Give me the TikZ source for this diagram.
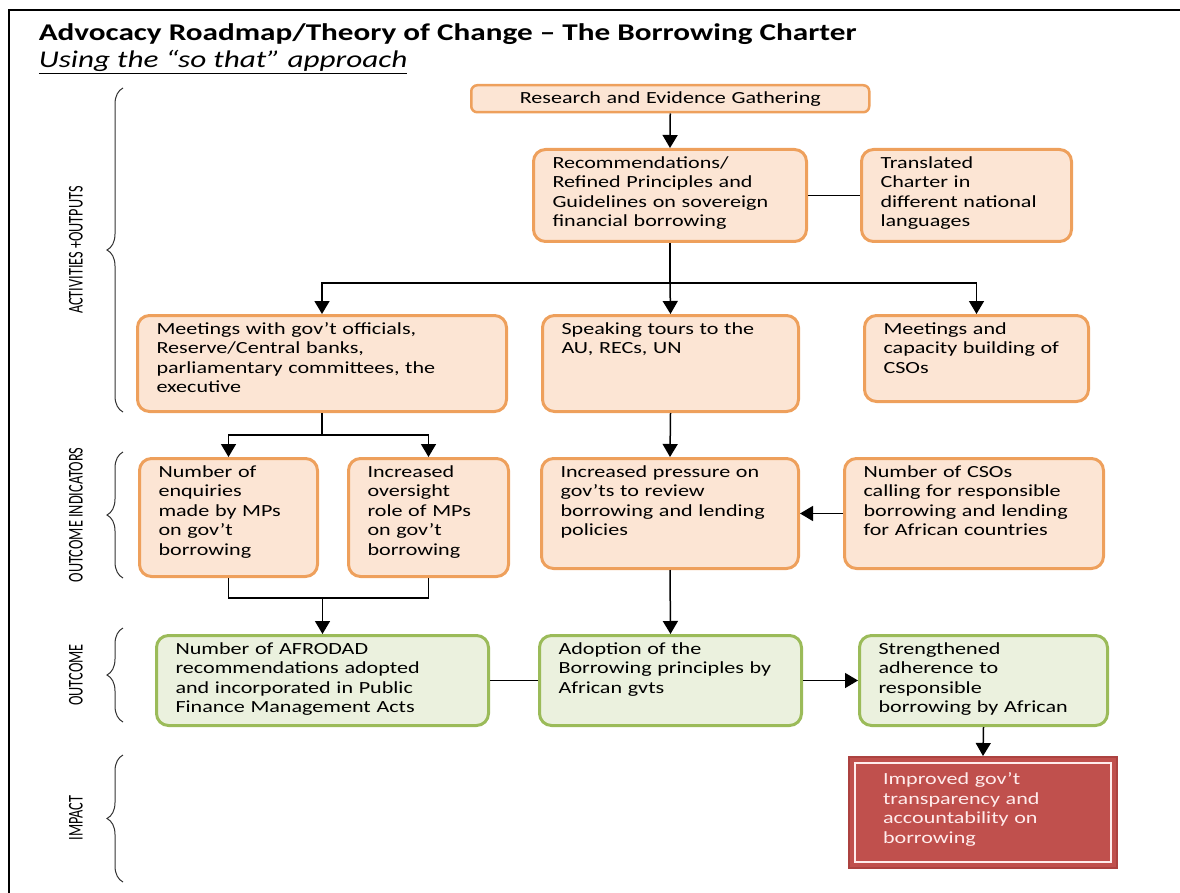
\documentclass[tikz,border=0pt]{standalone}
\usepackage{fontspec}
\setmainfont{Carlito}[FakeStretch=1.3]
\newfontfamily\sidefont{Carlito}[FakeStretch=0.68]
\usepackage{tikz}
\usetikzlibrary{arrows.meta,decorations.pathreplacing,calc}
\definecolor{peach}{RGB}{252,229,212}
\definecolor{orangeline}{RGB}{238,160,92}
\definecolor{palegreen}{RGB}{235,241,222}
\definecolor{greenline}{RGB}{155,187,89}
\definecolor{brick}{RGB}{192,80,77}
\definecolor{brickline}{RGB}{172,66,64}
\definecolor{pinkwhite}{RGB}{255,236,236}
\newcommand{\boxtext}[2]{\parbox[c][#1][t]{\linewidth}{\raggedright #2}}
\tikzset{
  obox/.style={draw=orangeline,fill=peach,line width=3pt,rounded corners=12pt,
    anchor=north west,inner xsep=0pt,inner ysep=7pt,font=\fontsize{17}{19.5}\selectfont},
  gbox/.style={obox,draw=greenline,fill=palegreen},
  redbox/.style={draw=brickline,fill=brick,line width=2pt,anchor=north west,
    inner xsep=0pt,inner ysep=16pt,text=pinkwhite,font=\fontsize{17}{19.5}\selectfont},
  sidelabel/.style={rotate=90,font=\sidefont\fontsize{21}{22}\selectfont},
  bracket/.style={decorate,decoration={brace,amplitude=16pt},line width=1pt,draw=black!80}
}
\begin{document}
\begin{tikzpicture}[x=1pt,y=-1pt,>={Triangle[width=15pt,length=13pt]},line width=1.5pt]
\useasboundingbox (0,0) rectangle (1180,893);
\clip (0,0) rectangle (1180,893);
% frame and heading
\draw[line width=2.5pt] (9,10) rectangle (1200,920);
\node[anchor=base west,font=\bfseries\fontsize{24}{26}\selectfont,inner sep=0pt] (title) at (38,41)
  {Advocacy Roadmap/Theory of Change -- The Borrowing Charter};
\node[anchor=base west,font=\itshape\fontsize{24}{26}\selectfont,inner sep=0pt] (subtitle) at (38,68)
  {\underline{Using the “so that” approach}};
% stages on the left
\draw[bracket] (123,412) -- (123,88);
\draw[bracket] (123,578) -- (123,452);
\draw[bracket] (123,722) -- (123,628);
\draw[bracket] (123,882) -- (123,755);
\node[sidelabel] (lact) at (76,250) {ACTIVITIES +OUTPUTS};
\node[sidelabel] (lind) at (76,515) {OUTCOME INDICATORS};
\node[sidelabel] (lout) at (76,675) {OUTCOME};
\node[sidelabel] (limp) at (76,818) {IMPACT};
% activities + outputs
\node[obox,line width=2.5pt,rounded corners=6pt,minimum width=398pt,minimum height=27pt,
  inner ysep=2pt,text width=380pt,align=center] (research) at (470,84) {Research and Evidence Gathering};
\node[obox,minimum width=273pt,minimum height=92pt,text width=235pt] (rec) at (532,148)
  {\boxtext{78pt}{Recommendations/\\Refined Principles and\\Guidelines on sovereign\\financial borrowing}};
\node[obox,minimum width=210pt,minimum height=92pt,text width=172pt] (trans) at (860,148)
  {\boxtext{78pt}{Translated\\Charter in\\different national\\languages}};
\node[obox,minimum width=369pt,minimum height=96pt,text width=331pt] (gov) at (136,314)
  {\boxtext{82pt}{Meetings with gov’t officials,\\Reserve/Central banks,\\parliamentary committees, the\\executive}};
\node[obox,minimum width=256pt,minimum height=96pt,text width=218pt] (speak) at (541,314)
  {\boxtext{82pt}{Speaking tours to the\\AU, RECs, UN}};
\node[obox,minimum width=224pt,minimum height=86pt,text width=186pt] (csomeet) at (863,314)
  {\boxtext{72pt}{Meetings and\\capacity building of\\CSOs}};
% outcome indicators
\node[obox,minimum width=178pt,minimum height=118pt,text width=140pt] (enq) at (138,457)
  {\boxtext{104pt}{Number of\\enquiries\\made by MPs\\on gov’t\\borrowing}};
\node[obox,minimum width=160pt,minimum height=118pt,text width=122pt] (ovs) at (347,457)
  {\boxtext{104pt}{Increased\\oversight\\role of MPs\\on gov’t\\borrowing}};
\node[obox,minimum width=257pt,minimum height=110pt,text width=219pt] (press) at (540,457)
  {\boxtext{96pt}{Increased pressure on\\gov’ts to review\\borrowing and lending\\policies}};
\node[obox,minimum width=259pt,minimum height=110pt,text width=221pt] (csos) at (843,457)
  {\boxtext{96pt}{Number of CSOs\\calling for responsible\\borrowing and lending\\for African countries}};
% outcome
\node[gbox,minimum width=332pt,minimum height=90pt,text width=294pt] (afro) at (155,634)
  {\boxtext{76pt}{Number of AFRODAD\\recommendations adopted\\and incorporated in Public\\Finance Management Acts}};
\node[gbox,minimum width=262pt,minimum height=90pt,text width=224pt] (adopt) at (538,634)
  {\boxtext{76pt}{Adoption of the\\Borrowing principles by\\African gvts}};
\node[gbox,minimum width=248pt,minimum height=90pt,text width=210pt] (stren) at (858,634)
  {\boxtext{76pt}{Strengthened\\adherence to\\responsible\\borrowing by African}};
% impact
\node[redbox,minimum width=268pt,minimum height=111pt,text width=200pt] (impact) at (848,756)
  {\boxtext{79pt}{Improved gov’t\\transparency and\\accountability on\\borrowing}};
\draw[pinkwhite,line width=1.5pt] ([xshift=7pt,yshift=-7pt]impact.north west) rectangle ([xshift=-7pt,yshift=7pt]impact.south east);
% connectors
\coordinate (split1) at ($(rec.south)+(0,40)$);
\coordinate (split2) at ($(gov.south)+(0,22)$);
\coordinate (join) at ($(afro.north)+(0,-36)$);
\draw[->] (research.south) -- (rec.north);
\draw (rec.east) -- (trans.west);
\draw (rec.south) -- (split1);
\draw[->] (split1) -| (gov.north);
\draw[->] (split1) -- (speak.north);
\draw[->] (split1) -| (csomeet.north);
\draw (gov.south) -- (split2);
\draw[->] (split2) -| (enq.north);
\draw[->] (split2) -| (ovs.north);
\draw[->] (speak.south) -- (press.north);
\draw[->] (csos.west) -- (press.east);
\draw (enq.south) |- (join) -| (ovs.south);
\draw[->] (join) -- (afro.north);
\draw[->] (press.south) -- (adopt.north);
\draw (afro.east) -- (adopt.west);
\draw[->] (adopt.east) -- (stren.west);
\draw[->] (stren.south) -- (impact.north);
\end{tikzpicture}
\end{document}
